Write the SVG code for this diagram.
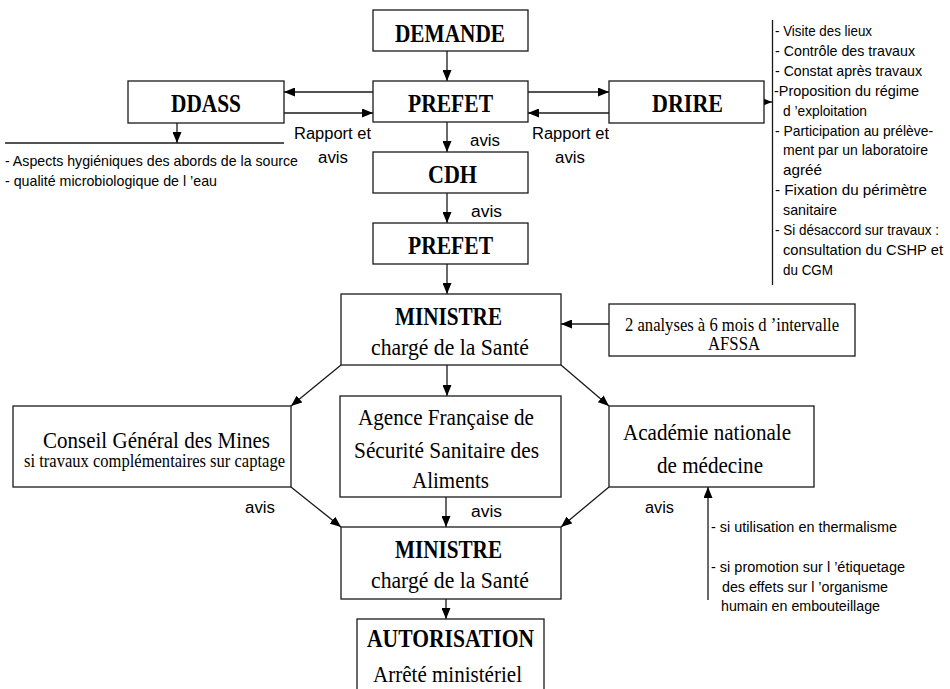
<svg xmlns="http://www.w3.org/2000/svg" width="950" height="689" viewBox="0 0 950 689">
<defs>
<style>
.box{fill:#fff;stroke:#1a1a1a;stroke-width:1.3}
.ln{fill:none;stroke:#1a1a1a;stroke-width:1.3}
.arr{fill:none;stroke:#1a1a1a;stroke-width:1.3;marker-end:url(#ah)}
.tb{font-family:"Liberation Serif",serif;font-weight:bold;font-size:25px;fill:#000}
.ts{font-family:"Liberation Serif",serif;font-size:23px;fill:#000}
.tss{font-family:"Liberation Serif",serif;font-size:18px;fill:#000}
.sa{font-family:"Liberation Sans",Arial,sans-serif;font-size:16px;fill:#000}
.sl{font-family:"Liberation Sans",Arial,sans-serif;font-size:15px;fill:#000}
.sm{font-family:"Liberation Sans",Arial,sans-serif;font-size:14px;fill:#000}
</style>
<marker id="ah" markerWidth="11" markerHeight="9" refX="11" refY="4.5" orient="auto" markerUnits="userSpaceOnUse">
<path d="M0,0 L11,4.5 L0,9 z" fill="#000"/>
</marker>
</defs>
<rect width="950" height="689" fill="#fff"/>

<g id="connectors">
<line class="arr" x1="447" y1="51" x2="447" y2="81"/>
<line class="arr" x1="373" y1="92" x2="284" y2="92"/>
<line class="arr" x1="284" y1="113" x2="373" y2="113"/>
<line class="arr" x1="528" y1="92" x2="609" y2="92"/>
<line class="arr" x1="609" y1="113" x2="528" y2="113"/>
<line class="arr" x1="764" y1="102" x2="772" y2="102"/>
<line class="arr" x1="177" y1="123" x2="177" y2="143"/>
<line class="arr" x1="447" y1="122" x2="447" y2="152"/>
<line class="arr" x1="447" y1="193" x2="447" y2="223"/>
<line class="arr" x1="447" y1="264" x2="447" y2="294"/>
<line class="arr" x1="609" y1="324" x2="561" y2="324"/>
<line class="arr" x1="341" y1="365" x2="291" y2="406"/>
<line class="arr" x1="561" y1="365" x2="609" y2="406"/>
<line class="arr" x1="447" y1="365" x2="447" y2="396"/>
<line class="arr" x1="291" y1="487" x2="341" y2="527"/>
<line class="arr" x1="609" y1="487" x2="561" y2="527"/>
<line class="arr" x1="446" y1="497" x2="446" y2="527"/>
<line class="arr" x1="708" y1="600" x2="708" y2="487"/>
<line class="arr" x1="446" y1="599" x2="446" y2="619"/>
<text class="sa" x="294" y="139" textLength="77" lengthAdjust="spacingAndGlyphs">Rapport et</text>
<text class="sa" x="318" y="163" textLength="30" lengthAdjust="spacingAndGlyphs">avis</text>
<text class="sa" x="532" y="139" textLength="77" lengthAdjust="spacingAndGlyphs">Rapport et</text>
<text class="sa" x="555" y="163" textLength="30" lengthAdjust="spacingAndGlyphs">avis</text>
<text class="sa" x="470" y="146" textLength="30" lengthAdjust="spacingAndGlyphs">avis</text>
<text class="sa" x="471" y="217" textLength="31" lengthAdjust="spacingAndGlyphs">avis</text>
<text class="sa" x="245" y="513" textLength="30" lengthAdjust="spacingAndGlyphs">avis</text>
<text class="sa" x="471" y="517" textLength="31" lengthAdjust="spacingAndGlyphs">avis</text>
<text class="sa" x="645" y="513" textLength="29" lengthAdjust="spacingAndGlyphs">avis</text>
</g>

<g id="demande">
<rect class="box" x="373" y="10" width="155" height="41"/>
<text class="tb" x="395" y="42" textLength="110" lengthAdjust="spacingAndGlyphs">DEMANDE</text>
</g>
<g id="prefet1">
<rect class="box" x="373" y="81" width="155" height="41"/>
<text class="tb" x="408" y="112" textLength="85" lengthAdjust="spacingAndGlyphs">PREFET</text>
</g>
<g id="ddass">
<rect class="box" x="128" y="81" width="156" height="42"/>
<text class="tb" x="171" y="112" textLength="70" lengthAdjust="spacingAndGlyphs">DDASS</text>
</g>
<g id="ddass-notes">
<line class="ln" x1="5" y1="143" x2="284" y2="143"/>
<text class="sl" x="5" y="166" textLength="293" lengthAdjust="spacingAndGlyphs">- Aspects hygiéniques des abords de la source</text>
<text class="sl" x="5" y="186" textLength="212" lengthAdjust="spacingAndGlyphs">- qualité microbiologique de l ’eau</text>
</g>
<g id="drire">
<rect class="box" x="609" y="81" width="155" height="42"/>
<text class="tb" x="652" y="112" textLength="71" lengthAdjust="spacingAndGlyphs">DRIRE</text>
</g>
<g id="drire-notes">
<line class="ln" x1="772.5" y1="20" x2="772.5" y2="285"/>
<text class="sl" x="775" y="36" textLength="97" lengthAdjust="spacingAndGlyphs">- Visite des lieux</text>
<text class="sl" x="775" y="56" textLength="140" lengthAdjust="spacingAndGlyphs">- Contrôle des travaux</text>
<text class="sl" x="775" y="76" textLength="147" lengthAdjust="spacingAndGlyphs">- Constat après travaux</text>
<text class="sl" x="774" y="96" textLength="145" lengthAdjust="spacingAndGlyphs">-Proposition du régime</text>
<text class="sl" x="783" y="116" textLength="84" lengthAdjust="spacingAndGlyphs">d ’exploitation</text>
<text class="sl" x="775" y="136" textLength="158" lengthAdjust="spacingAndGlyphs">- Participation au prélève-</text>
<text class="sl" x="783" y="155" textLength="145" lengthAdjust="spacingAndGlyphs">ment  par un laboratoire</text>
<text class="sl" x="783" y="175" textLength="39" lengthAdjust="spacingAndGlyphs">agréé</text>
<text class="sl" x="775" y="195" textLength="152" lengthAdjust="spacingAndGlyphs">- Fixation du périmètre</text>
<text class="sl" x="783" y="215" textLength="54" lengthAdjust="spacingAndGlyphs">sanitaire</text>
<text class="sl" x="775" y="235" textLength="164" lengthAdjust="spacingAndGlyphs" font-size="13">- Si désaccord sur travaux :</text>
<text class="sl" x="783" y="255" textLength="160" lengthAdjust="spacingAndGlyphs">consultation du CSHP et</text>
<text class="sl" x="783" y="275" textLength="50" lengthAdjust="spacingAndGlyphs">du CGM</text>
</g>
<g id="cdh">
<rect class="box" x="373" y="152" width="155" height="41"/>
<text class="tb" x="428" y="183" textLength="49" lengthAdjust="spacingAndGlyphs">CDH</text>
</g>
<g id="prefet2">
<rect class="box" x="373" y="223" width="155" height="41"/>
<text class="tb" x="408" y="254" textLength="85" lengthAdjust="spacingAndGlyphs">PREFET</text>
</g>
<g id="ministre1">
<rect class="box" x="341" y="294" width="220" height="71"/>
<text class="tb" x="395" y="325" textLength="107" lengthAdjust="spacingAndGlyphs">MINISTRE</text>
<text class="ts" x="371" y="355" textLength="158" lengthAdjust="spacingAndGlyphs" font-size="24">chargé de la Santé</text>
</g>
<g id="afssa-analyses">
<rect class="box" x="609" y="304" width="246" height="52"/>
<text class="tss" x="625" y="331" textLength="214" lengthAdjust="spacingAndGlyphs">2 analyses à 6 mois d ’intervalle</text>
<text class="tss" x="708" y="350" textLength="52" lengthAdjust="spacingAndGlyphs">AFSSA</text>
</g>
<g id="conseil">
<rect class="box" x="13" y="406" width="278" height="81"/>
<text class="ts" x="43" y="448" textLength="227" lengthAdjust="spacingAndGlyphs">Conseil Général des Mines</text>
<text class="tss" x="24" y="467" textLength="261" lengthAdjust="spacingAndGlyphs">si travaux complémentaires sur captage</text>
</g>
<g id="agence">
<rect class="box" x="340" y="396" width="221" height="101"/>
<text class="ts" x="358" y="425" textLength="176" lengthAdjust="spacingAndGlyphs">Agence Française de</text>
<text class="ts" x="354" y="458" textLength="185" lengthAdjust="spacingAndGlyphs">Sécurité Sanitaire des</text>
<text class="ts" x="412" y="488" textLength="77" lengthAdjust="spacingAndGlyphs">Aliments</text>
</g>
<g id="academie">
<rect class="box" x="609" y="406" width="205" height="81"/>
<text class="ts" x="623" y="440" textLength="168" lengthAdjust="spacingAndGlyphs">Académie nationale</text>
<text class="ts" x="657" y="473" textLength="106" lengthAdjust="spacingAndGlyphs">de médecine</text>
</g>
<g id="academie-notes">
<text class="sm" x="711" y="532" textLength="186" lengthAdjust="spacingAndGlyphs">-  si utilisation en thermalisme</text>
<text class="sm" x="711" y="572" textLength="194" lengthAdjust="spacingAndGlyphs">-  si promotion sur l ’étiquetage</text>
<text class="sm" x="722" y="592" textLength="166" lengthAdjust="spacingAndGlyphs">des effets sur l ’organisme</text>
<text class="sm" x="721" y="611" textLength="159" lengthAdjust="spacingAndGlyphs">humain en embouteillage</text>
</g>
<g id="ministre2">
<rect class="box" x="341" y="527" width="220" height="72"/>
<text class="tb" x="395" y="558" textLength="107" lengthAdjust="spacingAndGlyphs">MINISTRE</text>
<text class="ts" x="371" y="588" textLength="158" lengthAdjust="spacingAndGlyphs" font-size="24">chargé de la Santé</text>
</g>
<g id="autorisation">
<rect class="box" x="357" y="619" width="187" height="75"/>
<text class="tb" x="367" y="647" textLength="167" lengthAdjust="spacingAndGlyphs" font-size="24">AUTORISATION</text>
<text class="ts" x="373" y="682" textLength="149" lengthAdjust="spacingAndGlyphs" font-size="22">Arrêté ministériel</text>
</g>
</svg>
